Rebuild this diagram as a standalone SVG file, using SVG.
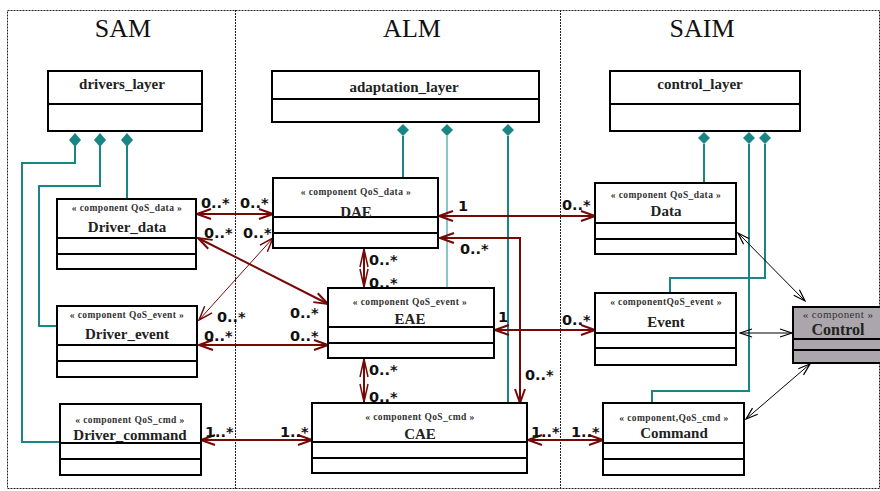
<svg xmlns="http://www.w3.org/2000/svg" width="880" height="491" viewBox="0 0 880 491">
<style>
.frame{fill:none;stroke:#222;stroke-width:1;stroke-dasharray:2,1}
.title{font-family:"Liberation Serif",serif;font-size:26px;fill:#111;text-anchor:middle}
.box{fill:#fff;stroke:#000;stroke-width:2}
.gray{fill:#aaa6ac;stroke:#000;stroke-width:2}
.div{stroke:#000;stroke-width:2}
.name{font-family:"Liberation Serif",serif;font-weight:bold;font-size:15px;fill:#222;text-anchor:middle}
.lname{font-family:"Liberation Serif",serif;font-weight:bold;font-size:15px;fill:#222;text-anchor:middle}
.st{font-family:"Liberation Serif",serif;font-weight:bold;font-size:9.5px;fill:#333;text-anchor:middle;letter-spacing:0.4px}
.teal{fill:none;stroke:#1a8585;stroke-width:2}
.teal2{fill:none;stroke:#66b2b2;stroke-width:1.5}
.dia{fill:#1a8585}
.red{fill:none;stroke:#760808;stroke-width:2;marker-start:url(#ar);marker-end:url(#ar)}
.redt{fill:none;stroke:#760808;stroke-width:1;marker-start:url(#art);marker-end:url(#art)}
.redv{fill:none;stroke:#760808;stroke-width:2;marker-start:url(#arv);marker-end:url(#arv)}
.blk{fill:none;stroke:#000;stroke-width:1;marker-start:url(#ab);marker-end:url(#ab)}
.m{font-family:"DejaVu Sans",sans-serif;font-weight:bold;font-size:14.5px;fill:#111}
</style>
<defs>
<marker id="ar" viewBox="0 0 16 12" refX="15" refY="6" markerWidth="16" markerHeight="12" markerUnits="userSpaceOnUse" orient="auto-start-reverse"><path d="M1,1 L15,6 L1,11" fill="none" stroke="#760808" stroke-width="2"/></marker>
<marker id="art" viewBox="0 0 16 12" refX="15" refY="6" markerWidth="16" markerHeight="12" markerUnits="userSpaceOnUse" orient="auto-start-reverse"><path d="M1,1 L15,6 L1,11" fill="none" stroke="#760808" stroke-width="1.5"/></marker>
<marker id="arv" viewBox="0 0 20 10" refX="19" refY="5" markerWidth="20" markerHeight="10" markerUnits="userSpaceOnUse" orient="auto-start-reverse"><path d="M1,1 L19,5 L1,9" fill="none" stroke="#760808" stroke-width="1.5"/></marker>
<marker id="ab" viewBox="0 0 14 10" refX="13" refY="5" markerWidth="14" markerHeight="10" markerUnits="userSpaceOnUse" orient="auto-start-reverse"><path d="M1,1 L13,5 L1,9" fill="none" stroke="#000" stroke-width="1.2"/></marker>
</defs>
<rect width="880" height="491" fill="#fff"/>
<g id="frames">
<rect class="frame" x="7.5" y="10.5" width="872" height="478"/>
<line class="frame" x1="235.5" y1="10" x2="235.5" y2="489"/>
<line class="frame" x1="560.5" y1="10" x2="560.5" y2="489"/>
<text class="title" x="123" y="37">SAM</text>
<text class="title" x="412" y="37">ALM</text>
<text class="title" x="702" y="37">SAIM</text>
</g>
<g id="connectors">
<path class="teal" d="M75,146 V163 H22 V442 H60"/>
<path class="teal" d="M100,146 V186 H39 V326 H57"/>
<path class="teal" d="M127,146 V199"/>
<path class="teal" d="M403,136 V178"/>
<path class="teal2" d="M447,136 V288"/>
<path class="teal" d="M508,136 V403"/>
<path class="teal" d="M704,144 V183"/>
<path class="teal" d="M749,144 V391 H652 V403"/>
<path class="teal" d="M765,144 V278 H670 V293"/>
<path class="dia" d="M75,133 L81,140 L75,147 L69,140 Z"/>
<path class="dia" d="M100,133 L106,140 L100,147 L94,140 Z"/>
<path class="dia" d="M127,133 L133,140 L127,147 L121,140 Z"/>
<path class="dia" d="M403,124 L409,130 L403,136 L397,130 Z"/>
<path class="dia" d="M447,124 L453,130 L447,136 L441,130 Z"/>
<path class="dia" d="M508,124 L514,130 L508,136 L502,130 Z"/>
<path class="dia" d="M704,132 L710,138 L704,144 L698,138 Z"/>
<path class="dia" d="M749,132 L755,138 L749,144 L743,138 Z"/>
<path class="dia" d="M765,132 L771,138 L765,144 L759,138 Z"/>
<line class="red" x1="197" y1="214" x2="273" y2="214"/>
<line class="red" x1="198" y1="238" x2="328" y2="304"/>
<line class="redt" x1="273" y1="238" x2="199" y2="320"/>
<line class="red" x1="199" y1="345" x2="328" y2="345"/>
<line class="red" x1="201" y1="440" x2="312" y2="440"/>
<line class="redv" x1="364" y1="249" x2="364" y2="287"/>
<line class="redv" x1="364" y1="359" x2="364" y2="402"/>
<line class="red" x1="439" y1="216" x2="595" y2="216"/>
<path class="red" d="M440,238 H520 V403"/>
<line class="red" x1="495" y1="330" x2="595" y2="330"/>
<line class="red" x1="528" y1="440" x2="603" y2="440"/>
<line class="blk" x1="738" y1="233" x2="805" y2="301"/>
<line class="blk" x1="740" y1="333" x2="792" y2="333"/>
<line class="blk" x1="746" y1="419" x2="810" y2="364"/>
<text class="m" x="201" y="208">0..*</text>
<text class="m" x="240" y="208">0..*</text>
<text class="m" x="204" y="238">0..*</text>
<text class="m" x="243" y="238">0..*</text>
<text class="m" x="217" y="322">0..*</text>
<text class="m" x="290" y="318">0..*</text>
<text class="m" x="204" y="341">0..*</text>
<text class="m" x="290" y="341">0..*</text>
<text class="m" x="205" y="437">1..*</text>
<text class="m" x="280" y="437">1..*</text>
<text class="m" x="369" y="265">0..*</text>
<text class="m" x="369" y="288">0..*</text>
<text class="m" x="369" y="375">0..*</text>
<text class="m" x="369" y="402">0..*</text>
<text class="m" x="458" y="211">1</text>
<text class="m" x="562" y="210">0..*</text>
<text class="m" x="460" y="254">0..*</text>
<text class="m" x="498" y="322">1</text>
<text class="m" x="562" y="325">0..*</text>
<text class="m" x="525" y="380">0..*</text>
<text class="m" x="531" y="437">1..*</text>
<text class="m" x="571" y="437">1..*</text>
</g>
<g id="drivers_layer">
<rect class="box" x="48" y="71" width="154" height="60"/>
<line class="div" x1="48" y1="104" x2="202" y2="104"/>
<text class="lname" x="122" y="89">drivers_layer</text>
</g>
<g id="adaptation_layer">
<rect class="box" x="272" y="71" width="267" height="51"/>
<line class="div" x1="272" y1="99" x2="539" y2="99"/>
<text class="lname" x="404" y="92">adaptation_layer</text>
</g>
<g id="control_layer">
<rect class="box" x="610" y="71" width="190" height="60"/>
<line class="div" x1="610" y1="104" x2="800" y2="104"/>
<text class="lname" x="700" y="89">control_layer</text>
</g>
<g id="Driver_data">
<rect class="box" x="57" y="199" width="139" height="70"/>
<line class="div" x1="57" y1="238" x2="196" y2="238"/>
<line class="div" x1="57" y1="254" x2="196" y2="254"/>
<text class="st" x="127" y="211">« component QoS_data »</text>
<text class="name" x="127" y="232">Driver_data</text>
</g>
<g id="Driver_event">
<rect class="box" x="57" y="306" width="140" height="71"/>
<line class="div" x1="57" y1="345" x2="197" y2="345"/>
<line class="div" x1="57" y1="361" x2="197" y2="361"/>
<text class="st" x="127" y="318">« component QoS_event »</text>
<text class="name" x="127" y="339">Driver_event</text>
</g>
<g id="Driver_command">
<rect class="box" x="60" y="404" width="141" height="71"/>
<line class="div" x1="60" y1="443" x2="201" y2="443"/>
<line class="div" x1="60" y1="459" x2="201" y2="459"/>
<text class="st" x="130" y="423">« component QoS_cmd »</text>
<text class="name" x="130" y="440">Driver_command</text>
</g>
<g id="DAE">
<rect class="box" x="273" y="178" width="165" height="70"/>
<line class="div" x1="273" y1="217" x2="438" y2="217"/>
<line class="div" x1="273" y1="233" x2="438" y2="233"/>
<text class="st" x="356" y="195">« component QoS_data »</text>
<text class="name" x="356" y="217">DAE</text>
</g>
<g id="EAE">
<rect class="box" x="328" y="288" width="166" height="70"/>
<line class="div" x1="328" y1="327" x2="494" y2="327"/>
<line class="div" x1="328" y1="343" x2="494" y2="343"/>
<text class="st" x="410" y="305">« component QoS_event »</text>
<text class="name" x="410" y="324">EAE</text>
</g>
<g id="CAE">
<rect class="box" x="312" y="403" width="215" height="70"/>
<line class="div" x1="312" y1="442" x2="527" y2="442"/>
<line class="div" x1="312" y1="458" x2="527" y2="458"/>
<text class="st" x="420" y="420">« component QoS_cmd »</text>
<text class="name" x="420" y="439">CAE</text>
</g>
<g id="Data">
<rect class="box" x="595" y="183" width="141" height="71"/>
<line class="div" x1="595" y1="223" x2="736" y2="223"/>
<line class="div" x1="595" y1="239" x2="736" y2="239"/>
<text class="st" x="666" y="198">« component QoS_data »</text>
<text class="name" x="666" y="216">Data</text>
</g>
<g id="Event">
<rect class="box" x="595" y="293" width="141" height="72"/>
<line class="div" x1="595" y1="333" x2="736" y2="333"/>
<line class="div" x1="595" y1="348" x2="736" y2="348"/>
<text class="st" x="666" y="305">« componentQoS_event »</text>
<text class="name" x="666" y="327">Event</text>
</g>
<g id="Command">
<rect class="box" x="603" y="403" width="141" height="72"/>
<line class="div" x1="603" y1="443" x2="744" y2="443"/>
<line class="div" x1="603" y1="459" x2="744" y2="459"/>
<text class="st" x="674" y="421">« component,QoS_cmd »</text>
<text class="name" x="674" y="438">Command</text>
</g>
<g id="Control">
<rect class="gray" x="793" y="307" width="95" height="56"/>
<line class="div" x1="793" y1="339" x2="880" y2="339"/>
<line class="div" x1="793" y1="350" x2="880" y2="350"/>
<text class="st" x="838" y="318" style="font-weight:normal;font-size:11px">« component »</text>
<text class="name" x="838" y="335" style="font-size:16px">Control</text>
</g>
</svg>
